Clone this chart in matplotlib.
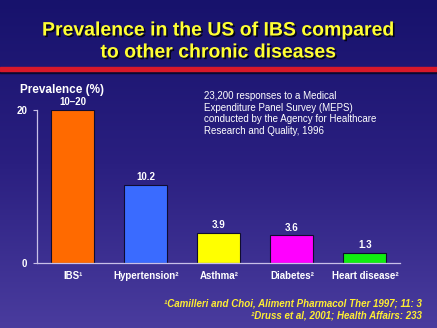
import numpy as np
import matplotlib.pyplot as plt
import matplotlib.patheffects as pe
from matplotlib.colors import LinearSegmentedColormap

plt.rcParams['font.family'] = ['Liberation Sans', 'DejaVu Sans']

# data
categories = ['IBS', 'Hypertension', 'Asthma', 'Diabetes', 'Heart disease']
refs = ['\u00b9', '\u00b2', '\u00b2', '\u00b2', '\u00b2']
values = [20, 10.2, 3.9, 3.6, 1.3]
value_labels = ['10\u201320', '10.2', '3.9', '3.6', '1.3']
colors = ['#ff6a00', '#3a6bff', '#ffff00', '#ff00ff', '#11ee11']

fig = plt.figure(figsize=(4.37, 3.28), dpi=100)

# background gradient
bg = fig.add_axes([0, 0, 1, 1])
cmap = LinearSegmentedColormap.from_list('bg', ['#17126c', '#2a1f80', '#4a3c9e'])
grad = np.linspace(0, 1, 256).reshape(-1, 1)
bg.imshow(grad, aspect='auto', cmap=cmap, extent=[0, 1, 0, 1], origin='upper')
bg.set_xlim(0, 1)
bg.set_ylim(0, 1)
bg.axis('off')
# red band under title
bg.axhspan(1 - 73 / 328, 1 - 71 / 328, color='#0a0830')
bg.axhspan(1 - 71 / 328, 1 - 66.5 / 328, color='#d8182a')

shadow = [pe.withSimplePatchShadow(offset=(1.2, -1.2), shadow_rgbFace='black', alpha=0.8)]
fig.text(0.5, 1 - 31 / 328, 'Prevalence in the US of IBS compared', color='#ffff33',
         fontsize=14, fontweight='bold', ha='center', va='center', path_effects=shadow)
fig.text(0.5, 1 - 53 / 328, 'to other chronic diseases', color='#ffff33',
         fontsize=14, fontweight='bold', ha='center', va='center', path_effects=shadow)

ax = fig.add_axes([37 / 437, 1 - 263 / 328, 363 / 437, 153 / 328])
ax.patch.set_alpha(0)
x = np.arange(len(categories))
ax.bar(x, values, width=0.59, color=colors, edgecolor='#100c30', linewidth=0.8)
for xi, v, lab in zip(x, values, value_labels):
    ax.text(xi, v + 0.35, lab, color='white', fontsize=7, fontweight='bold',
            ha='center', va='bottom')
ax.set_xlim(-0.49, 4.48)
ax.set_ylim(0, 20)
ax.set_yticks([0, 20])
ax.set_yticklabels(['0', '20'], color='white', fontsize=7, fontweight='bold')
ax.set_xticks(x)
ax.set_xticklabels([c + r for c, r in zip(categories, refs)],
                   color='white', fontsize=7, fontweight='bold')
ax.tick_params(axis='x', length=0, pad=6)
ax.tick_params(axis='y', length=3, color='#c8c0e8', width=0.8, pad=4)
for s in ['top', 'right']:
    ax.spines[s].set_visible(False)
for s in ['left', 'bottom']:
    ax.spines[s].set_color('#c8c0e8')
    ax.spines[s].set_linewidth(0.9)

fig.text(20 / 437, 1 - 90 / 328, 'Prevalence (%)', color='white', fontsize=8.5,
         fontweight='bold', ha='left', va='center')

note = ('23,200 responses to a Medical\nExpenditure Panel Survey (MEPS)\n'
        'conducted by the Agency for Healthcare\nResearch and Quality, 1996')
fig.text(204 / 437, 1 - 91 / 328, note, color='white', fontsize=7,
         ha='left', va='top', linespacing=1.2)

fig.text(422 / 437, 1 - 303 / 328, '\u00b9Camilleri and Choi, Aliment Pharmacol Ther 1997; 11: 3',
         color='#ffee33', fontsize=7, fontweight='bold', fontstyle='italic',
         ha='right', va='center')
fig.text(422 / 437, 1 - 316 / 328, '\u00b2Druss et al, 2001; Health Affairs: 233',
         color='#ffee33', fontsize=7, fontweight='bold', fontstyle='italic',
         ha='right', va='center')

fig.savefig('out.png', dpi=100)
